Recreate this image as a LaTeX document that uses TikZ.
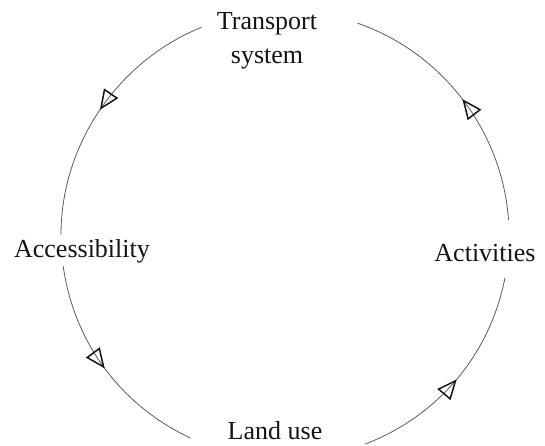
\documentclass[tikz,border=0pt]{standalone}
\usepackage{fontspec}
\setmainfont{Liberation Serif}
\usepackage{xcolor}
\definecolor{scan-black}{HTML}{141414}
\definecolor{scan-grey}{HTML}{5C5C5C}
\usetikzlibrary{arrows.meta,decorations.markings}

\tikzset{
    stage/.style={inner sep=0pt, outer sep=0pt, text=scan-black, align=center,
        font=\fontsize{26}{34}\selectfont},
    link/.style={draw=scan-grey, line width=0.8pt, looseness=0.92,
        postaction={decorate},
        decoration={markings, mark=at position 0.5 with
            {\arrow{Triangle[open, length=20pt, width=17pt, line width=1.5pt, color=scan-black]}}}}
}

\begin{document}
\begin{tikzpicture}[x=1pt, y=1pt]

    % Canvas
    \useasboundingbox (0, 0) rectangle (545, 446);

    % Stages
    \node[stage, anchor=north] (ts) at (267, 434) {Transport\\system};
    \node[stage, anchor=base] (ac) at (485, 184) {Activities};
    \node[stage, anchor=base] (lu) at (275, 6) {Land use};
    \node[stage, anchor=base] (ax) at (82, 188) {Accessibility};

    % Cycle
    \draw[link] ([shift={(42.8pt,-13pt)}]lu.east) to[out=21, in=259] ([shift={(19.9pt,-15.7pt)}]ac.south);
    \draw[link] ([shift={(23.5pt,24.8pt)}]ac.north) to[out=94, in=-19] ([shift={(40.4pt,-11.2pt)}]ts.north east);
    \draw[link] ([shift={(-15.4pt,-15.3pt)}]ts.north west) to[out=202, in=90] ([shift={(-21pt,5.2pt)}]ax.north);
    \draw[link] ([shift={(-18.8pt,-2.6pt)}]ax.south) to[out=-82, in=155] ([shift={(-37.2pt,-6.9pt)}]lu.west);

\end{tikzpicture}
\end{document}
